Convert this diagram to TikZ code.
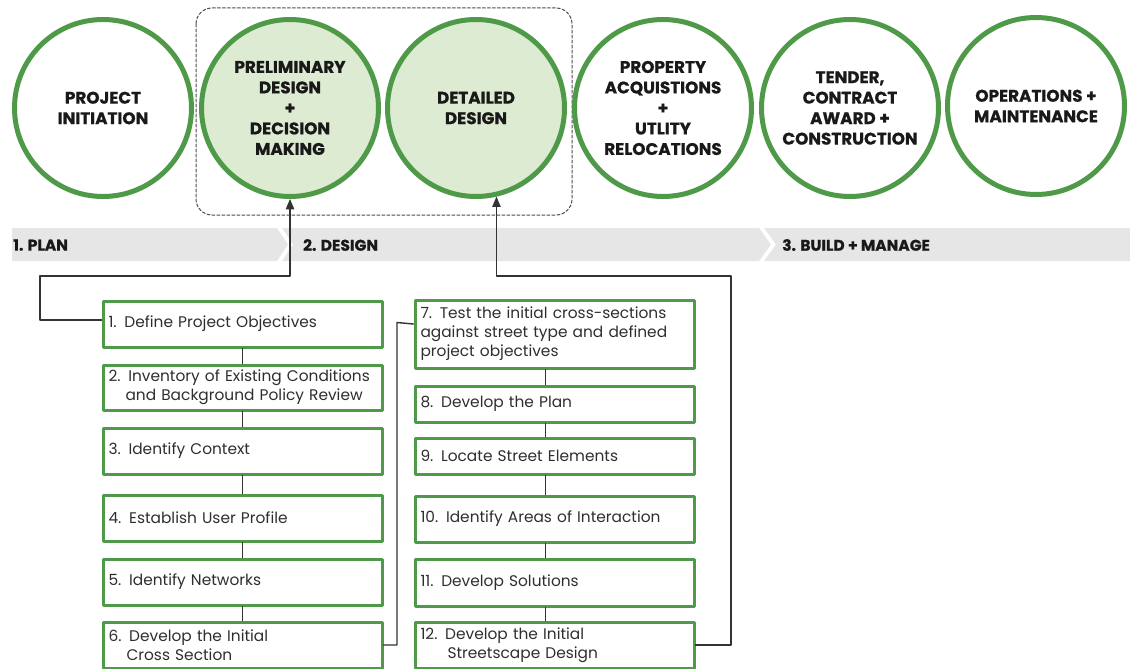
\documentclass[tikz,border=0pt]{standalone}
\usepackage{fontspec}
\setmainfont{Poppins}[BoldFeatures={FakeBold=0.8}]
\usetikzlibrary{arrows}

\definecolor{stepgreen}{HTML}{4F9A48}
\definecolor{stepfill}{HTML}{DCEBD2}
\definecolor{bandgray}{HTML}{E6E6E6}
\definecolor{inkgray}{HTML}{2E2E2E}

\tikzset{
  phase/.style={circle,draw=stepgreen,line width=5pt,minimum size=177pt,inner sep=0pt,
    align=center,text=black!90,font=\bfseries\fontsize{16.8}{20.5}\selectfont},
  phasefill/.style={phase,fill=stepfill},
  stepbox/.style={rectangle,draw=stepgreen,line width=3pt,anchor=north west,
    text width=268pt,inner xsep=5.5pt,inner ysep=0pt,align=left,
    text=inkgray,font=\fontsize{15.4}{19}\selectfont},
  band/.style={fill=bandgray},
  bandlabel/.style={anchor=west,inner sep=0pt,text=black!90,font=\bfseries\fontsize{15.5}{18}\selectfont},
  link/.style={draw=black!80,line width=1.4pt},
}

\begin{document}
\begin{tikzpicture}[x=1pt,y=-1pt,line cap=round,line join=round,>=triangle 45]
\useasboundingbox (0,0) rectangle (1130,669);
% phase band
\fill [band] (12,228) -- (277,228) -- (288,244.5) -- (277,261) -- (12,261) -- cycle;
\fill [band] (282,228) -- (759,228) -- (771,244.5) -- (759,261) -- (282,261) -- (293,244.5) -- cycle;
\fill [band] (764,228) -- (1130,228) -- (1130,261) -- (764,261) -- (776,244.5) -- cycle;
\node [bandlabel] (plan) at (13,245) {1. PLAN};
\node [bandlabel] (design) at (303,245) {2. DESIGN};
\node [bandlabel] (build) at (782,245) {3. BUILD + MANAGE};
% design stage frame
\draw [black!70,line width=1pt,dash pattern=on 3pt off 2pt,rounded corners=16pt] (196,8) rectangle (572,215);
% phases
\node [phase] (pi) at (103,108) {PROJECT\\INITIATION};
\node [phasefill] (pd) at (290,108) {PRELIMINARY\\DESIGN\\+\\DECISION\\MAKING};
\node [phasefill] (dd) at (476,108) {DETAILED\\DESIGN};
\node [phase] (pa) at (663,108) {PROPERTY\\ACQUISTIONS\\+\\UTLITY\\RELOCATIONS};
\node [phase] (tc) at (850,108) {TENDER,\\CONTRACT\\AWARD +\\CONSTRUCTION};
\node [phase] (om) at (1036,106) {OPERATIONS +\\MAINTENANCE};
% steps 1-6
\node [stepbox,minimum height=46pt] (s1) at (101.5,299.5) {1. Define Project Objectives};
\node [stepbox,minimum height=45pt] (s2) at (101.5,363.5) {2. Inventory of Existing Conditions\\\hspace*{17pt}and Background Policy Review};
\node [stepbox,minimum height=46pt] (s3) at (101.5,426.5) {3. Identify Context};
\node [stepbox,minimum height=46pt] (s4) at (101.5,493.5) {4. Establish User Profile};
\node [stepbox,minimum height=46pt] (s5) at (101.5,557.5) {5. Identify Networks};
\node [stepbox,minimum height=46pt] (s6) at (101.5,620.5) {6. Develop the Initial\\\hspace*{18pt}Cross Section};
% steps 7-12
\node [stepbox,minimum height=68pt] (s7) at (413.5,298.5) {7. Test the initial cross-sections\\against street type and defined\\project objectives};
\node [stepbox,minimum height=36pt] (s8) at (413.5,384.5) {8. Develop the Plan};
\node [stepbox,minimum height=36pt] (s9) at (413.5,436.5) {9. Locate Street Elements};
\node [stepbox,minimum height=46pt] (s10) at (413.5,494.5) {10. Identify Areas of Interaction};
\node [stepbox,minimum height=47pt] (s11) at (413.5,557.5) {11. Develop Solutions};
\node [stepbox,minimum height=46pt] (s12) at (413.5,620.5) {12. Develop the Initial\\\hspace*{27pt}Streetscape Design};
% links
\draw [link] (s1.south) -- (s2.north);
\draw [link] (s2.south) -- (s3.north);
\draw [link] (s3.south) -- (s4.north);
\draw [link] (s4.south) -- (s5.north);
\draw [link] (s5.south) -- (s6.north);
\draw [link] ([xshift=-9pt]s7.south) -- ([xshift=-9pt]s8.north);
\draw [link] ([xshift=-9pt]s8.south) -- ([xshift=-9pt]s9.north);
\draw [link] ([xshift=-9pt]s9.south) -- ([xshift=-9pt]s10.north);
\draw [link] ([xshift=-9pt]s10.south) -- ([xshift=-9pt]s11.north);
\draw [link] ([xshift=-9pt]s11.south) -- ([xshift=-9pt]s12.north);
\coordinate (bendA) at (40,276);
\coordinate (bendB) at (397,322.5);
\coordinate (bendC) at (731,276);
\draw [link,->] ([yshift=4pt]s1.west) -| (bendA) -| (pd.south);
\draw [link] (s6.east) -| (bendB) -- ([yshift=10pt]s7.west);
\draw [link,->] (s12.east) -| (bendC) -| (dd.-77);
\end{tikzpicture}
\end{document}
